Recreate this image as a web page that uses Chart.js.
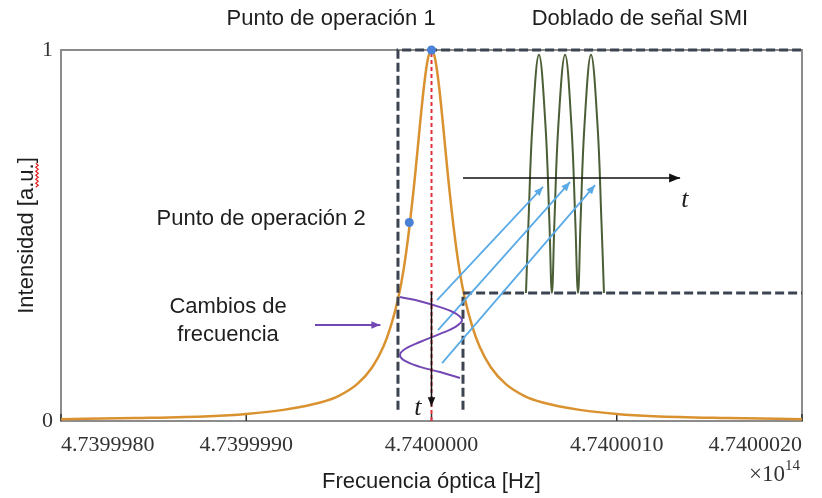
<!DOCTYPE html>
<html>
<head>
<meta charset="utf-8">
<script src="https://cdn.jsdelivr.net/npm/chart.js@4.4.1/dist/chart.umd.min.js"></script>
<style>
  html, body { margin: 0; padding: 0; background: #fff; }
  #wrap { width: 822px; height: 498px; }
</style>
</head>
<body>
<div id="wrap"><canvas id="chart" width="822" height="498"></canvas></div>
<script>
// x is the offset from 4.74e14 Hz in steps of 1e8 Hz (the axis shows x10^14)
const xTickLabels = ['4.7399980', '4.7399990', '4.7400000', '4.7400010', '4.7400020'];
const yTickLabels = ['0', '1'];

// laser resonance curve
const curveFreq = [-2, -1.6, -1.2, -1.0, -0.8, -0.6, -0.5, -0.4, -0.32, -0.26, -0.22, -0.18, -0.15, -0.12, -0.09, -0.06, -0.04, -0.02,
  0, 0.02, 0.04, 0.06, 0.09, 0.12, 0.15, 0.18, 0.22, 0.26, 0.32, 0.4, 0.5, 0.6, 0.8, 1.0, 1.2, 1.6, 2];
const curveIntensity = [0.005, 0.008, 0.013, 0.019, 0.03, 0.05, 0.068, 0.10, 0.145, 0.20, 0.255, 0.33, 0.41, 0.52, 0.655, 0.81, 0.905, 0.975,
  1, 0.975, 0.905, 0.81, 0.655, 0.52, 0.41, 0.33, 0.255, 0.20, 0.145, 0.10, 0.068, 0.05, 0.03, 0.019, 0.013, 0.008, 0.005];

// operating points 1 and 2
const opFreq = [0, -0.12];
const opIntensity = [1, 0.535];

// dashed windows
const leftBoxFreq = [-0.181, -0.181, 2];
const leftBoxIntensity = [0.03, 1, 1];
const rightBoxFreq = [0.17, 0.17, 2];
const rightBoxIntensity = [0.03, 0.345, 0.345];

// centre line and downward time axis
const centerFreq = [0, 0];
const centerIntensity = [0, 1];
const timeDownFreq = [0, 0];
const timeDownIntensity = [0.348, 0.04];

// frequency changes over time
const modFreq = [-0.17, -0.062, 0.046, 0.127, 0.165, 0.127, 0.046, -0.062, -0.143, -0.17, -0.143, -0.062, 0.046, 0.154];
const modIntensity = [0.334, 0.323, 0.307, 0.291, 0.272, 0.253, 0.235, 0.213, 0.194, 0.178, 0.162, 0.146, 0.132, 0.116];
const pointerFreq = [-0.629, -0.276];
const pointerIntensity = [0.259, 0.259];

// folded SMI signal
const smiFreq = [0.51, 0.524, 0.545, 0.58, 0.615, 0.636, 0.65, 0.664, 0.685, 0.721, 0.755, 0.776, 0.791,
  0.805, 0.826, 0.861, 0.896, 0.917, 0.931];
const smiIntensity = [0.345, 0.543, 0.799, 0.987, 0.799, 0.543, 0.345, 0.543, 0.799, 0.987, 0.799, 0.543, 0.345,
  0.543, 0.799, 0.987, 0.799, 0.543, 0.345];
const timeFreq = [0.17, 1.342];
const timeIntensity = [0.655, 0.655];

// projection arrows
const arrow1Freq = [0.03, 0.602];
const arrow1Intensity = [0.326, 0.631];
const arrow2Freq = [0.035, 0.748];
const arrow2Intensity = [0.245, 0.644];
const arrow3Freq = [0.057, 0.883];
const arrow3Intensity = [0.156, 0.636];

const pts = (xs, ys) => xs.map((x, i) => ({ x, y: ys[i] }));

const line = (data, color, width, extra) => Object.assign({
  data, borderColor: color, backgroundColor: color, borderWidth: width,
  showLine: true, pointRadius: 0, fill: false, clip: false, tension: 0
}, extra || {});

const notes = [
  { text: 'Punto de operación 1', x: -0.542, y: 1.084, font: '22px "Liberation Sans"' },
  { text: 'Doblado de señal SMI', x: 1.125, y: 1.084, font: '22px "Liberation Sans"' },
  { text: 'Punto de operación 2', x: -0.92, y: 0.544, font: '22px "Liberation Sans"' },
  { text: 'Cambios de', x: -1.098, y: 0.307, font: '22px "Liberation Sans"' },
  { text: 'frecuencia', x: -1.098, y: 0.232, font: '22px "Liberation Sans"' },
  { text: 't', x: -0.073, y: 0.035, font: 'italic 26px "Liberation Serif"' },
  { text: 't', x: 1.368, y: 0.596, font: 'italic 26px "Liberation Serif"' }
];

const overlay = {
  id: 'overlay',
  beforeDatasetsDraw(chart) {
    const { ctx, chartArea: a } = chart;
    const xs = chart.scales.x;
    ctx.save();
    ctx.strokeStyle = '#8c8c8c';
    ctx.lineWidth = 2;
    ctx.strokeRect(a.left, a.top, a.right - a.left, a.bottom - a.top);
    ctx.strokeStyle = '#333';
    ctx.lineWidth = 1.5;
    xs.ticks.forEach(t => {
      const px = xs.getPixelForValue(t.value);
      ctx.beginPath();
      ctx.moveTo(px, a.bottom);
      ctx.lineTo(px, a.bottom - 7);
      ctx.stroke();
    });
    ctx.restore();
  },
  afterDatasetsDraw(chart) {
    const { ctx, chartArea: a } = chart;
    const xs = chart.scales.x, ys = chart.scales.y;
    ctx.save();

    // arrowheads at the end of flagged lines
    chart.data.datasets.forEach((ds, i) => {
      if (!ds.arrow) return;
      const el = chart.getDatasetMeta(i).data;
      const p = el[el.length - 1], q = el[el.length - 2];
      const ang = Math.atan2(p.y - q.y, p.x - q.x);
      const len = ds.arrow, half = len * 0.42;
      ctx.fillStyle = ds.borderColor;
      ctx.beginPath();
      ctx.moveTo(p.x, p.y);
      ctx.lineTo(p.x - len * Math.cos(ang) + half * Math.sin(ang), p.y - len * Math.sin(ang) - half * Math.cos(ang));
      ctx.lineTo(p.x - len * Math.cos(ang) - half * Math.sin(ang), p.y - len * Math.sin(ang) + half * Math.cos(ang));
      ctx.closePath();
      ctx.fill();
    });

    // text notes
    ctx.fillStyle = '#1e1e1e';
    ctx.textAlign = 'center';
    ctx.textBaseline = 'middle';
    notes.forEach(n => {
      ctx.font = n.font;
      ctx.fillText(n.text, xs.getPixelForValue(n.x), ys.getPixelForValue(n.y));
    });

    // exponent under the last tick label
    ctx.fillStyle = '#333';
    ctx.textAlign = 'right';
    ctx.font = '15px "Liberation Serif"';
    const w14 = ctx.measureText('14').width;
    ctx.fillText('14', a.right - 2, a.bottom + 45);
    ctx.font = '23px "Liberation Serif"';
    ctx.fillText('\u00d710', a.right - 2 - w14, a.bottom + 54);

    // spell-check squiggle under "a.u."
    ctx.font = '22px "Liberation Sans"';
    const full = ctx.measureText('Intensidad [a.u.]').width;
    const wEnd = ctx.measureText(']').width;
    const wAu = ctx.measureText('.u.').width;
    const cy = (a.top + a.bottom) / 2;
    const y0 = cy - full / 2 + wEnd, y1 = y0 + wAu;
    ctx.strokeStyle = '#e02020';
    ctx.lineWidth = 1.2;
    ctx.beginPath();
    for (let y = y0, k = 0; y <= y1; y += 2, k++) {
      const x = 37 + (k % 2 ? 1.2 : -1.2);
      if (k === 0) ctx.moveTo(x, y); else ctx.lineTo(x, y);
    }
    ctx.stroke();
    ctx.restore();
  }
};

const dashColor = '#3c4452';

new Chart(document.getElementById('chart'), {
  type: 'scatter',
  data: {
    datasets: [
      line(pts(opFreq, opIntensity), '#4a80d6', 0, { showLine: false, pointRadius: 4.5, pointBorderWidth: 0 }),
      line(pts(timeDownFreq, timeDownIntensity), '#111111', 1.5, { arrow: 9 }),
      line(pts(centerFreq, centerIntensity), '#e0303c', 2, { borderDash: [4, 3] }),
      line(pts(pointerFreq, pointerIntensity), '#7448b4', 2, { arrow: 9 }),
      line(pts(modFreq, modIntensity), '#7448b4', 2, { tension: 0.4 }),
      line(pts(arrow1Freq, arrow1Intensity), '#5aaae6', 1.8, { arrow: 9 }),
      line(pts(arrow2Freq, arrow2Intensity), '#5aaae6', 1.8, { arrow: 9 }),
      line(pts(arrow3Freq, arrow3Intensity), '#5aaae6', 1.8, { arrow: 9 }),
      line(pts(timeFreq, timeIntensity), '#111111', 1.5, { arrow: 11 }),
      line(pts(smiFreq, smiIntensity), '#4b5e35', 2, { tension: 0.4 }),
      line(pts(leftBoxFreq, leftBoxIntensity), dashColor, 3, { borderDash: [9, 4] }),
      line(pts(rightBoxFreq, rightBoxIntensity), dashColor, 3, { borderDash: [9, 4] }),
      line(pts(curveFreq, curveIntensity), '#d9922f', 2.5, { cubicInterpolationMode: 'monotone' })
    ]
  },
  options: {
    responsive: false,
    animation: false,
    events: [],
    layout: { padding: { top: 50, right: 20, left: 0, bottom: 0 } },
    plugins: { legend: { display: false }, tooltip: { enabled: false } },
    scales: {
      x: {
        type: 'linear',
        min: -2,
        max: 2,
        grid: { display: false, drawTicks: false },
        border: { display: false },
        ticks: {
          stepSize: 1,
          align: 'inner',
          padding: 11,
          color: '#333',
          font: { family: 'Liberation Serif', size: 22 },
          callback: (v, i) => xTickLabels[i]
        },
        title: {
          display: true,
          text: 'Frecuencia óptica [Hz]',
          color: '#1e1e1e',
          font: { family: 'Liberation Sans', size: 22 },
          padding: { top: 0, bottom: 3 }
        },
        afterFit: s => { s.height = 77; s.paddingLeft = 0; s.paddingRight = 0; }
      },
      y: {
        min: 0,
        max: 1,
        grid: { display: false, drawTicks: false },
        border: { display: false },
        ticks: {
          stepSize: 1,
          padding: 8,
          color: '#333',
          font: { family: 'Liberation Serif', size: 22 },
          callback: (v, i) => yTickLabels[i]
        },
        title: {
          display: true,
          text: 'Intensidad [a.u.]',
          color: '#1e1e1e',
          font: { family: 'Liberation Sans', size: 22 },
          padding: { top: 14, bottom: 0 }
        },
        afterFit: s => { s.width = 61; }
      }
    }
  },
  plugins: [overlay]
});
</script>
</body>
</html>
